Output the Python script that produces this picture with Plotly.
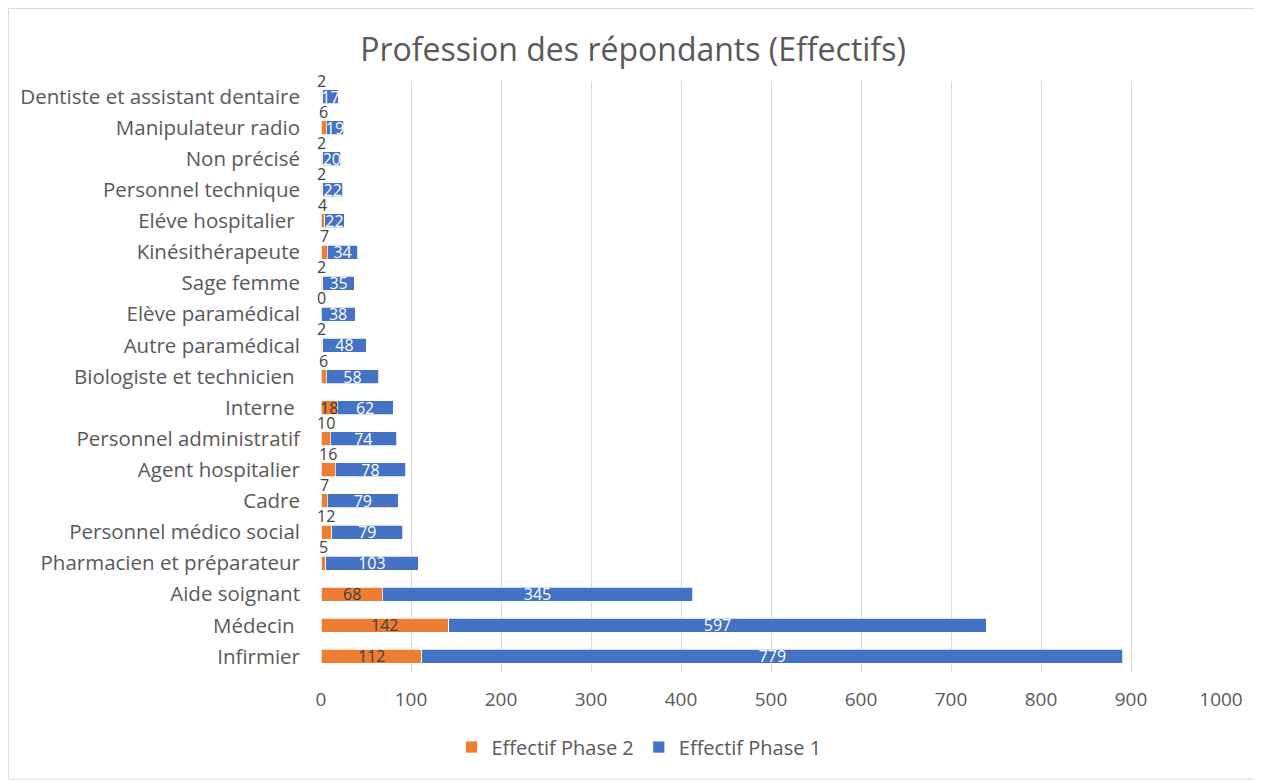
import plotly.graph_objects as go

categories = [
    "Infirmier", "Médecin\u00a0", "Aide soignant", "Pharmacien et préparateur",
    "Personnel médico social", "Cadre", "Agent hospitalier", "Personnel administratif",
    "Interne\u00a0", "Biologiste et technicien\u00a0", "Autre paramédical", "Elève paramédical",
    "Sage femme", "Kinésithérapeute", "Eléve hospitalier\u00a0", "Personnel technique",
    "Non précisé", "Manipulateur radio", "Dentiste et assistant dentaire",
]
phase2 = [112, 142, 68, 5, 12, 7, 16, 10, 18, 6, 2, 0, 2, 7, 4, 2, 2, 6, 2]
phase1 = [779, 597, 345, 103, 79, 79, 78, 74, 62, 58, 48, 38, 35, 34, 22, 22, 20, 19, 17]
x_ticks = [0, 100, 200, 300, 400, 500, 600, 700, 800, 900, 1000]

ORANGE = "#ED7D31"
BLUE = "#4472C4"
GREY = "#595959"
FONT = "Open Sans"

# page has an 8px body margin, so the figure is drawn 8px right/down
W, H = 1254, 774
L, R, T, B = 313, 41, 73, 110

fig = go.Figure()
fig.add_trace(go.Bar(
    y=categories, x=phase2, orientation="h", name="Effectif Phase 2",
    marker=dict(color=ORANGE, line=dict(color="white", width=0.75)),
    hoverinfo="x+y",
))
fig.add_trace(go.Bar(
    y=categories, x=phase1, orientation="h", name="Effectif Phase 1",
    marker=dict(color=BLUE, line=dict(color="white", width=0.75)),
    text=[str(v) for v in phase1], textposition="inside", textangle=0,
    insidetextanchor="middle", constraintext="none",
    textfont=dict(color="white", size=16, family=FONT),
))

# Phase 2 labels: inside when the bar is wide enough, above otherwise
for cat, v in zip(categories, phase2):
    fig.add_annotation(
        x=v / 2, y=cat, text=str(v), showarrow=False,
        xref="x", yref="y",
        yshift=0 if v >= 18 else 16,
        font=dict(color="#404040", size=16, family=FONT),
    )

fig.update_layout(
    barmode="stack",
    bargap=0.55,
    width=W, height=H,
    margin=dict(l=L, r=R, t=T, b=B, autoexpand=False),
    paper_bgcolor="white", plot_bgcolor="white",
    title=dict(text="Profession des répondants (Effectifs)", x=(633 - 8) / W, xanchor="center",
               y=1 - (50 - 8) / H, yanchor="middle",
               font=dict(size=32, color=GREY, family=FONT)),
    font=dict(family=FONT, color=GREY),
    legend=dict(orientation="h", x=(639 - 8 - L) / 900, xanchor="center",
                y=-0.094, yanchor="top",
                font=dict(size=20, color=GREY, family=FONT), traceorder="normal",
                itemwidth=30),
    xaxis=dict(range=[0, 1000], tickvals=x_ticks, showgrid=True, gridcolor="#D9D9D9",
               gridwidth=1, zeroline=False, showline=False,
               tickfont=dict(size=19, color=GREY, family=FONT), ticks="", ticklabelstandoff=14),
    yaxis=dict(showgrid=False, zeroline=False, showline=False, ticks="",
               tickfont=dict(size=20.5, color=GREY, family=FONT), ticklabelstandoff=20,
               range=[-0.5, 18.5]),
    showlegend=True,
)

# light outer chart border
fig.add_shape(type="rect", xref="paper", yref="paper",
              x0=(0.5 - L) / 900, x1=(1247 - L) / 900,
              y0=-(B - 3) / (H - T - B), y1=(H - B - 0.5) / (H - T - B),
              line=dict(color="#D9D9D9", width=1), layer="below")

fig.write_html("out.html")
